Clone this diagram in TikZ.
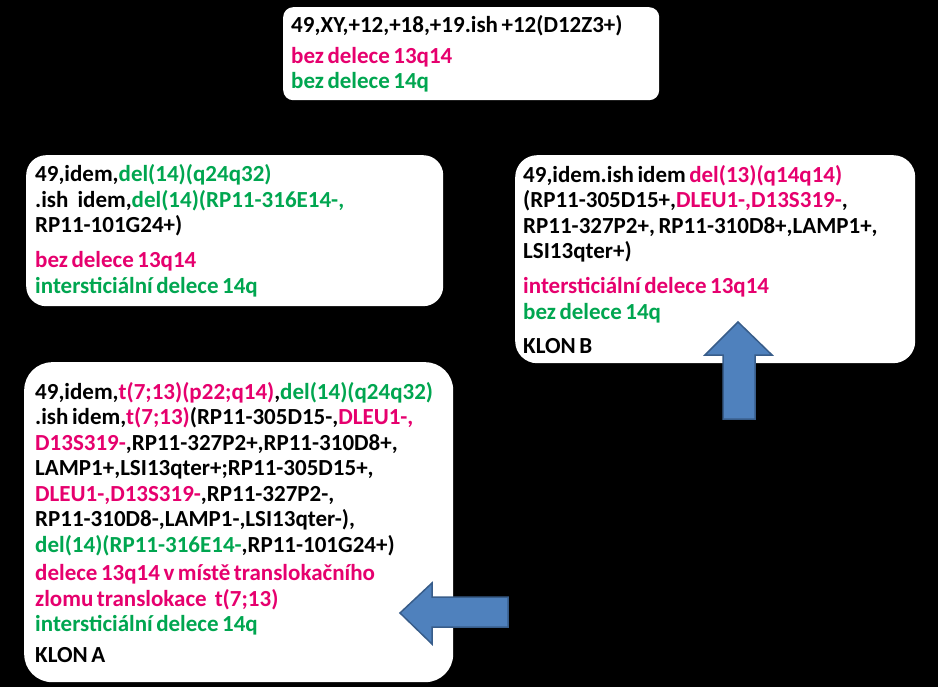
\documentclass[tikz,border=0pt]{standalone}
\usepackage{fontspec}
\setmainfont{Carlito}
\definecolor{pinkc}{RGB}{230,0,110}
\definecolor{greenc}{RGB}{0,166,80}
\definecolor{arrfill}{RGB}{79,129,189}
\definecolor{arredge}{RGB}{56,93,138}
\newcommand{\pk}[1]{\textcolor{pinkc}{#1}}
\newcommand{\gr}[1]{\textcolor{greenc}{#1}}
\DeclareRobustCommand{\boxfont}{\fontsize{23bp}{25.5bp}\bfseries\selectfont}
\tikzset{
  box/.style={fill=white, draw=none, anchor=north west, align=left,
    inner xsep=8bp, inner ysep=4bp, font=\boxfont,
    execute at begin node={\spaceskip=3.5bp\relax\xspaceskip=3.5bp\relax}},
  blockarrow/.style={fill=arrfill, draw=arredge, line width=1.5bp, line join=miter}
}
\begin{document}
\begin{tikzpicture}[x=1bp,y=-1bp]
\fill[black] (0,0) rectangle (938,687);
\useasboundingbox (0,0) rectangle (938,687);

\node[box, rounded corners=10bp, text width=360bp, minimum height=93bp] (top) at (283,7)
  {49,XY,+12,+18,+19.ish +12(D12Z3+)\\[5.5bp]
   \pk{bez delece 13q14}\\
   \gr{bez delece 14q}};

\node[box, rounded corners=20bp, inner xsep=9bp, text width=399bp, minimum height=151bp] (mid) at (26,155)
  {49,idem,\gr{del(14)(q24q32)}\\
   .ish\hspace{9bp}idem,\gr{del(14)(RP11-316E14-,}\\
   RP11-101G24+)\\[9.5bp]
   \pk{bez delece 13q14}\\
   \gr{intersticiální delece 14q}};

\node[box, rounded corners=22bp, text width=384bp, minimum height=208bp] (klonb) at (515,155)
  {49,idem.ish idem \pk{del(13)(q14q14)}\\
   (RP11-305D15+,\pk{DLEU1-,D13S319-},\\
   RP11-327P2+, RP11-310D8+,LAMP1+,\\
   LSI13qter+)\\[9.5bp]
   \pk{intersticiální delece 13q14}\\
   \gr{bez delece 14q}\\[8.5bp]
   KLON B};

\node[box, rounded corners=28bp, inner xsep=11bp, text width=407bp, minimum height=320bp] (klona) at (24,362)
  {49,idem,\pk{t(7;13)(p22;q14)},\gr{del(14)(q24q32)}\\
   .ish idem,\pk{t(7;13)}(RP11-305D15-,\pk{DLEU1-,}\\
   \pk{D13S319-},RP11-327P2+,RP11-310D8+,\\
   LAMP1+,LSI13qter+;RP11-305D15+,\\
   \pk{DLEU1-,D13S319-},RP11-327P2-,\\
   RP11-310D8-,LAMP1-,LSI13qter-),\\
   \gr{del(14)(RP11-316E14-},RP11-101G24+)\\[3bp]
   \pk{delece 13q14 v místě translokačního}\\
   \pk{zlomu translokace\hspace{8bp}t(7;13)}\\
   \gr{intersticiální delece 14q}\\[5bp]
   KLON A};

% block arrows
\draw[blockarrow] (723,419) -- (723,355) -- (705,355) -- (738,322) -- (772,355) -- (755,355) -- (755,419) -- cycle;
\draw[blockarrow] (508,597) -- (432,597) -- (432,583) -- (400,613) -- (432,644) -- (432,627) -- (508,627) -- cycle;
\end{tikzpicture}
\end{document}
